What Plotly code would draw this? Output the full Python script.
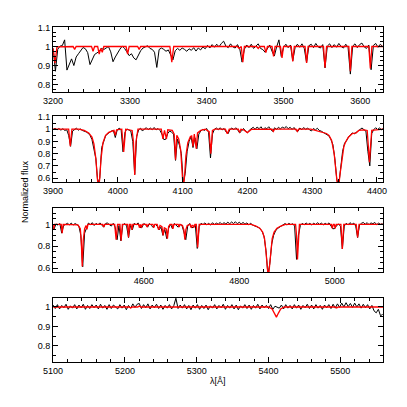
import numpy as np
import plotly.graph_objects as go

# observed spectrum (black): normalized flux x1000 on a regular wavelength grid
obs1_start, obs1_step = 3200, 3
obs1 = [
    990, 870, 985, 1002, 1005, 1035, 876, 905, 935, 900,      # 3200
    945, 962, 980, 995, 988, 968, 905, 930, 958, 966,         # 3230
    975, 990, 984, 992, 1000, 972, 920, 945, 970, 986,        # 3260
    1002, 990, 972, 952, 962, 940, 930, 958, 978, 992,        # 3290
    996, 1004, 990, 985, 970, 890, 984, 992, 985, 975,        # 3320
    982, 955, 930, 978, 990, 980, 992, 985, 975, 988,         # 3350
    980, 994, 976, 992, 982, 998, 988, 1006, 992, 1010,       # 3380
    996, 1012, 998, 1016, 1028, 1002, 994, 1014, 998, 992,    # 3410
    1010, 988, 918, 986, 1008, 994, 1012, 990, 1004, 1014,    # 3440
    990, 984, 970, 988, 1008, 975, 950, 998, 1035, 948,       # 3470
    996, 1012, 994, 1008, 925, 994, 1012, 996, 1014, 990,     # 3500
    915, 1004, 1012, 994, 1016, 998, 992, 1010, 888, 1002,    # 3530
    1014, 994, 1010, 996, 1016, 1000, 992, 1012, 996, 855,    # 3560
    1002, 1014, 994, 1010, 1018, 998, 990, 1008, 878, 1006,   # 3590
    1016, 996, 1012, 1000,                                    # 3620
]

obs2_start, obs2_step = 3900, 3
obs2 = [
    998, 1008, 994, 1006, 992, 1004, 990, 996, 950, 860,      # 3900
    985, 1000, 1008, 992, 1002, 990, 985, 978, 968, 950,      # 3930
    915, 820, 760, 560, 600, 850, 905, 945, 962, 975,         # 3960
    985, 990, 932, 994, 1008, 996, 815, 975, 1002, 994,       # 3990
    985, 900, 630, 940, 994, 1008, 985, 1002, 1012, 996,      # 4020
    1010, 996, 1014, 994, 1006, 990, 960, 915, 918, 965,      # 4050
    985, 975, 960, 745, 920, 870, 800, 560, 640, 820,         # 4080
    900, 940, 850, 930, 840, 960, 985, 998, 990, 1006,        # 4110
    975, 765, 960, 998, 1010, 996, 1012, 994, 1006, 978,      # 4140
    962, 996, 1010, 996, 1012, 994, 970, 985, 1006, 985,      # 4170
    972, 992, 1008, 1016, 998, 1018, 1004, 1020, 996, 1012,   # 4200
    1004, 1020, 998, 982, 1012, 998, 1016, 1002, 1018, 1008,  # 4230
    1022, 1004, 1016, 998, 1014, 990, 982, 1010, 996, 1014,   # 4260
    998, 1010, 994, 986, 1006, 994, 1008, 990, 984, 975,      # 4290
    970, 960, 945, 915, 875, 760, 590, 540, 700, 820,         # 4320
    885, 905, 935, 950, 970, 962, 975, 990, 998, 1010,        # 4350
    996, 985, 820, 700, 965, 996, 1012, 998, 1010, 996,       # 4380
    1006,                                                     # 4410
]

obs3_start, obs3_step = 4400, 4
obs3 = [
    995, 930, 985, 958, 1004, 994, 1008, 920, 990, 1002,      # 4400
    1010, 996, 1012, 994, 1008, 998, 985, 900, 612, 920,      # 4440
    962, 1012, 998, 1016, 990, 1010, 996, 1014, 994, 975,     # 4480
    1008, 1014, 996, 985, 1010, 975, 860, 990, 850, 995,      # 4520
    1008, 985, 880, 990, 950, 1010, 996, 1014, 972, 970,      # 4560
    1008, 996, 975, 1008, 990, 970, 1002, 985, 950, 975,      # 4600
    900, 955, 870, 965, 1002, 960, 1008, 994, 975, 1002,      # 4640
    990, 930, 860, 985, 1008, 970, 972, 990, 780, 980,        # 4680
    1010, 998, 1014, 996, 1010, 994, 1016, 998, 1012, 1002,   # 4720
    1018, 1000, 1016, 1004, 1020, 1006, 1022, 1008, 1024, 1006,  # 4760
    1020, 1004, 1018, 1002, 1014, 996, 1010, 994, 990, 980,   # 4800
    972, 960, 935, 890, 760, 540, 640, 820, 900, 940,         # 4840
    962, 975, 985, 996, 1008, 994, 1010, 998, 1006, 985,      # 4880
    680, 900, 990, 1010, 996, 1014, 998, 1010, 994, 1012,     # 4920
    998, 1016, 1000, 1012, 996, 1010, 998, 1014, 985, 960,    # 4960
    962, 990, 1002, 985, 775, 985, 1010, 996, 1016, 1000,     # 5000
    1012, 985, 880, 994, 1010, 1018, 1002, 1016, 998, 1014,   # 5040
    1006, 1018, 998, 1012, 1000, 1008,                        # 5080
]

obs4_start, obs4_step = 5100, 3
obs4 = [
    1010, 992, 1012, 990, 1008, 996, 1014, 988, 1006, 994,    # 5100
    1012, 990, 1010, 996, 1014, 988, 1008, 992, 1012, 996,    # 5130
    1010, 990, 1014, 994, 1008, 988, 1012, 992, 1010, 998,    # 5160
    990, 1012, 994, 1010, 986, 1008, 994, 1016, 998, 1014,    # 5190
    1018, 992, 1012, 996, 1016, 990, 1010, 996, 1014, 992,    # 5220
    1010, 988, 1008, 994, 1012, 990, 1006, 1045, 992, 1010,   # 5250
    994, 1012, 990, 1008, 986, 1010, 994, 1012, 988, 1008,    # 5280
    992, 1010, 986, 1006, 994, 1012, 990, 1008, 996, 1014,    # 5310
    988, 1008, 994, 1012, 990, 1010, 986, 1006, 994, 1012,    # 5340
    992, 1010, 988, 1008, 994, 1014, 990, 1010, 996, 1008,    # 5370
    992, 1012, 988, 1004, 998, 994, 1010, 990, 1012, 994,     # 5400
    1008, 990, 1012, 994, 1010, 988, 1008, 996, 1014, 992,    # 5430
    1010, 990, 1012, 994, 1008, 988, 1010, 996, 1012, 992,    # 5460
    1014, 994, 1016, 998, 1020, 1000, 1022, 1002, 1018, 998,  # 5490
    1020, 1000, 1016, 994, 1014, 996, 1012, 990, 1008, 980,   # 5520
    970, 988, 955, 962,                                       # 5550
]

# model spectrum (red): (wavelength, normalized flux) points
mod1 = [
    (3200, 0.99), (3202.5, 0.912), (3205, 0.998), (3226, 1.0), (3228, 0.985), (3230, 1.0),
    (3250, 1.0), (3252, 0.975), (3254, 1.0), (3258, 1.0), (3260, 0.96), (3262, 0.99),
    (3264, 0.97), (3266, 1.0), (3295, 1.0), (3297, 0.96), (3299, 1.0), (3310, 1.0),
    (3312, 0.985), (3314, 1.0), (3352, 1.0), (3354.5, 0.918), (3357, 1.0), (3440, 1.0),
    (3442, 0.99), (3444, 1.0), (3445, 1.0), (3447, 0.918), (3449, 1.0), (3465, 1.0),
    (3467, 0.99), (3469, 1.0), (3475, 1.0), (3477, 0.968), (3479, 1.0), (3485, 1.0),
    (3487, 0.948), (3489, 1.0), (3496, 1.0), (3498, 0.94), (3500, 1.0), (3510, 1.0),
    (3512, 0.922), (3514, 1.0), (3528, 1.0), (3530, 0.914), (3532, 1.0), (3552, 1.0),
    (3554, 0.888), (3556, 1.0), (3585, 1.0), (3587, 0.87), (3589, 1.0), (3611, 1.0),
    (3613, 0.885), (3615, 1.0), (3630, 1.0),
]

mod2 = [
    (3900, 1.0), (3924, 1.0), (3926.5, 0.862), (3929, 1.0), (3940, 1.0), (3948, 0.99),
    (3955, 0.97), (3960, 0.935), (3963, 0.88), (3966, 0.76), (3968, 0.62), (3970, 0.5),
    (3972, 0.6), (3974, 0.76), (3977, 0.89), (3981, 0.95), (3986, 0.975), (3994, 0.99),
    (3996, 0.95), (3998, 0.995), (4006, 1.0), (4009, 0.815), (4012, 1.0), (4022, 0.99),
    (4024, 0.9), (4026, 0.625), (4028, 0.9), (4031, 1.0), (4067, 1.0), (4069.5, 0.92),
    (4072, 0.99), (4075, 0.92), (4077, 0.995), (4084, 0.99), (4087, 0.96), (4089, 0.75),
    (4091, 0.95), (4094, 0.92), (4097, 0.83), (4099, 0.72), (4101, 0.5), (4103, 0.62),
    (4105, 0.78), (4108, 0.89), (4112, 0.94), (4114, 0.945), (4116, 0.86), (4118, 0.96),
    (4121, 0.84), (4123, 0.97), (4128, 0.99), (4135, 1.0), (4141, 0.98), (4143.5, 0.80),
    (4146, 0.99), (4150, 1.0), (4166, 1.0), (4169, 0.962), (4172, 1.0), (4186, 1.0),
    (4188, 0.972), (4190, 1.0), (4194, 0.995), (4200, 0.972), (4206, 0.998), (4238, 1.0),
    (4240, 0.982), (4242, 1.0), (4275, 1.0), (4277, 0.982), (4279, 1.0), (4298, 1.0),
    (4305, 0.99), (4315, 0.978), (4317, 0.97), (4322, 0.965), (4326, 0.95), (4330, 0.91),
    (4334, 0.8), (4337, 0.66), (4340, 0.49), (4343, 0.63), (4346, 0.77), (4349, 0.86),
    (4352, 0.9), (4356, 0.935), (4362, 0.965), (4368, 0.97), (4372, 0.99), (4380, 0.995),
    (4385, 0.99), (4387, 0.85), (4388.5, 0.73), (4390, 0.85), (4392, 0.99), (4410, 1.0),
]

mod3 = [
    (4400, 1.0), (4403, 0.995), (4405, 0.93), (4407, 0.99), (4410, 0.99), (4411, 0.955),
    (4413, 1.0), (4427, 1.0), (4429, 0.92), (4431, 1.0), (4462, 0.995), (4467, 0.96),
    (4469, 0.85), (4471, 0.615), (4473, 0.85), (4476, 0.96), (4479, 0.99), (4481, 0.955),
    (4483, 1.0), (4514, 1.0), (4516, 0.975), (4518, 1.0), (4539, 1.0), (4542, 0.86),
    (4545, 1.0), (4550, 1.0), (4552.5, 0.85), (4555, 1.0), (4566, 1.0), (4568, 0.88),
    (4570, 1.0), (4573, 1.0), (4575, 0.95), (4577, 1.0), (4589, 1.0), (4591, 0.97),
    (4593, 1.0), (4595, 0.97), (4597, 1.0), (4605, 1.0), (4607, 0.975), (4609, 1.0),
    (4619, 1.0), (4621, 0.97), (4623, 1.0), (4628, 1.0), (4631, 0.95), (4634, 0.99),
    (4638, 0.98), (4640.5, 0.9), (4643, 0.97), (4647, 0.96), (4649.5, 0.87), (4652, 0.98),
    (4655, 1.0), (4659, 1.0), (4661, 0.96), (4663, 1.0), (4672, 1.0), (4674, 0.975),
    (4676, 1.0), (4681, 0.99), (4684, 0.95), (4686, 0.86), (4688, 0.95), (4691, 0.99),
    (4697, 1.0), (4699, 0.97), (4701, 0.99), (4703, 0.99), (4705, 0.97), (4707, 1.0),
    (4710, 1.0), (4713, 0.79), (4716, 1.0), (4825, 1.0), (4835, 0.985), (4843, 0.965),
    (4849, 0.93), (4853, 0.87), (4856, 0.75), (4859, 0.6), (4861, 0.5), (4863, 0.6),
    (4866, 0.75), (4869, 0.87), (4873, 0.93), (4879, 0.965), (4887, 0.985), (4897, 1.0),
    (4918, 1.0), (4920, 0.9), (4922, 0.68), (4924, 0.9), (4926, 1.0), (4993, 1.0),
    (4995, 0.965), (4997, 1.0), (4999, 1.0), (5001, 0.965), (5003, 1.0), (5013, 1.0),
    (5016, 0.775), (5019, 1.0), (5045, 1.0), (5048, 0.88), (5051, 1.0), (5102, 1.0),
]

mod4 = [
    (5100, 1.0), (5206, 1.0), (5208, 0.995), (5210, 1.0), (5218, 1.0), (5220, 1.005),
    (5222, 1.0), (5400, 1.0), (5405, 0.99), (5408, 0.97), (5411, 0.948), (5414, 0.97),
    (5417, 0.99), (5422, 1.0), (5493, 1.0), (5495, 0.995), (5497, 1.0), (5560, 1.0),
]

# page body has an 8px margin, so the figure is 399px and positions are shifted by 8px
W = 399
def px_x(p):
    return (p - 8) / W

def px_y(p):
    return 1 - (p - 8) / W

# panel setup: x range, y range, x major/minor ticks, y major/minor ticks, top/bottom pixel
panels = [
    (obs1_start, obs1_step, obs1, mod1, [3200, 3630], [0.762, 1.1], 100, 20, 0.1, 0.025, (22.7, 88)),
    (obs2_start, obs2_step, obs2, mod2, [3900, 4410], [0.565, 1.107], 100, 20, 0.1, 0.05, (112.7, 180)),
    (obs3_start, obs3_step, obs3, mod3, [4410, 5102], [0.564, 1.15], 200, 50, 0.2, 0.05, (206, 271)),
    (obs4_start, obs4_step, obs4, mod4, [5100, 5560], [0.715, 1.048], 100, 20, 0.1, 0.05, (297, 362.7)),
]

fig = go.Figure()
layout = {}
for i, (start, step, obs, mod, xr, yr, xd, xm, yd, ym, (top, bot)) in enumerate(panels, start=1):
    wl = start + step * np.arange(len(obs))
    fl = np.array(obs) / 1000.0
    mx, my = zip(*mod)
    sfx = "" if i == 1 else str(i)
    fig.add_trace(go.Scatter(x=wl, y=fl, mode="lines", line=dict(color="black", width=1),
                             xaxis="x" + sfx, yaxis="y" + sfx, hoverinfo="skip"))
    fig.add_trace(go.Scatter(x=mx, y=my, mode="lines", line=dict(color="#ff0000", width=1.3),
                             xaxis="x" + sfx, yaxis="y" + sfx, hoverinfo="skip"))
    common = dict(showline=True, linecolor="black", linewidth=1, mirror="allticks",
                  ticks="inside", ticklen=5, tickcolor="black", showgrid=False, zeroline=False,
                  tickfont=dict(size=9, color="black"))
    layout["xaxis" + sfx] = dict(common, domain=[px_x(44.3), px_x(385.7)], range=xr, tick0=0,
                                 dtick=xd, anchor="y" + sfx,
                                 minor=dict(dtick=xm, ticks="inside", ticklen=3, tickcolor="black"))
    layout["yaxis" + sfx] = dict(common, domain=[px_y(bot), px_y(top)], range=yr, tick0=0,
                                 dtick=yd, anchor="x" + sfx,
                                 minor=dict(dtick=ym, ticks="inside", ticklen=3, tickcolor="black"))

fig.update_layout(**layout)
fig.update_layout(
    width=W, height=W, autosize=False, showlegend=False,
    margin=dict(l=0, r=0, t=0, b=0),
    paper_bgcolor="white", plot_bgcolor="white",
    font=dict(family="Liberation Sans", size=9, color="black"),
    annotations=[
        dict(text="Normalized flux", x=px_x(16), y=px_y(189), xref="paper", yref="paper",
             xanchor="center", yanchor="middle", textangle=-90, showarrow=False,
             font=dict(size=9)),
        dict(text="λ[Å]", x=px_x(215), y=px_y(382), xref="paper", yref="paper",
             xanchor="center", yanchor="middle", showarrow=False, font=dict(size=9)),
    ],
)

fig.write_html("out.html")
